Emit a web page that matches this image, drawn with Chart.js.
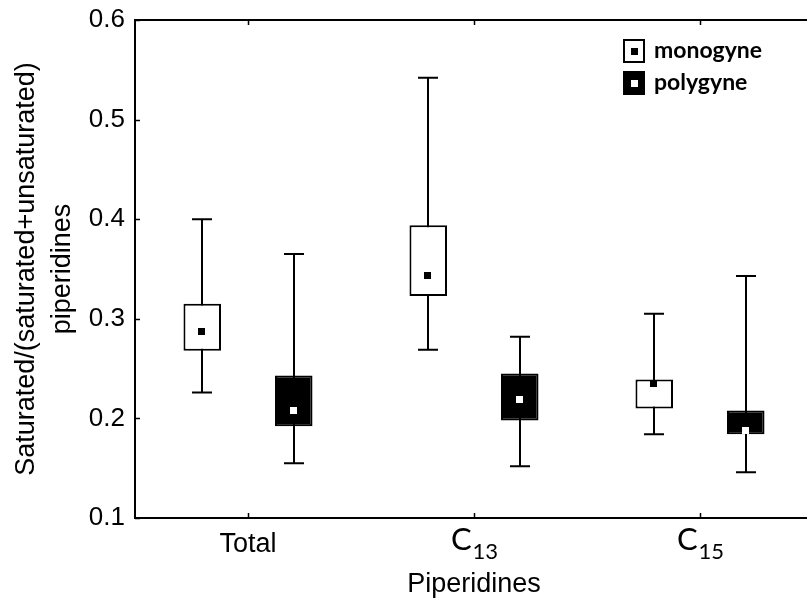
<!DOCTYPE html>
<html>
<head>
<meta charset="utf-8">
<script src="https://cdn.jsdelivr.net/npm/chart.js@4/dist/chart.umd.min.js"></script>
<style>
  html, body { margin: 0; padding: 0; background: #fff; overflow: hidden; }
  #wrap { position: relative; width: 815px; height: 604px; }
</style>
</head>
<body>
<div id="wrap"><canvas id="graph"></canvas></div>
<script>
// categories (main text + subscript)
var catMain = ["Total", "C", "C"];
var catSub = ["", "13", "15"];

// monogyne: whisker min, box q1, box q3, whisker max, centre marker
var monoMin = [0.226, 0.269, 0.184];
var monoQ1 = [0.268, 0.323, 0.210];
var monoQ3 = [0.315, 0.394, 0.239];
var monoMax = [0.400, 0.542, 0.305];
var monoMid = [0.287, 0.343, 0.235];

// polygyne
var polyMin = [0.155, 0.152, 0.146];
var polyQ1 = [0.192, 0.198, 0.184];
var polyQ3 = [0.243, 0.245, 0.208];
var polyMax = [0.365, 0.282, 0.343];
var polyMid = [0.207, 0.218, 0.187];

var seriesNames = ["monogyne", "polygyne"];
var yTicks = [0.1, 0.2, 0.3, 0.4, 0.5, 0.6];

var groups = [
  { min: monoMin, mid: monoMid, max: monoMax, box: "#ffffff", mark: "#000000" },
  { min: polyMin, mid: polyMid, max: polyMax, box: "#000000", mark: "#ffffff" }
];

function pairs(a, b) {
  return a.map(function (v, i) { return [v, b[i]]; });
}

var boxExtras = {
  id: "boxExtras",
  beforeDatasetsDraw: function (chart) {
    var ctx = chart.ctx;
    var y = chart.scales.y;
    ctx.save();
    ctx.strokeStyle = "#000";
    ctx.lineWidth = 2;
    groups.forEach(function (g, d) {
      var meta = chart.getDatasetMeta(d);
      meta.data.forEach(function (bar, i) {
        var x = Math.round(bar.x);
        var yTop = y.getPixelForValue(g.max[i]);
        var yBot = y.getPixelForValue(g.min[i]);
        ctx.beginPath();
        ctx.moveTo(x, yTop);
        ctx.lineTo(x, yBot);
        ctx.moveTo(x - 10, yTop);
        ctx.lineTo(x + 10, yTop);
        ctx.moveTo(x - 10, yBot);
        ctx.lineTo(x + 10, yBot);
        ctx.stroke();
      });
    });
    ctx.restore();
  },
  afterDatasetsDraw: function (chart) {
    var ctx = chart.ctx;
    var y = chart.scales.y;
    var xs = chart.scales.x;
    var a = chart.chartArea;
    ctx.save();
    // centre markers
    groups.forEach(function (g, d) {
      var meta = chart.getDatasetMeta(d);
      meta.data.forEach(function (bar, i) {
        var py = y.getPixelForValue(g.mid[i]);
        ctx.fillStyle = g.mark;
        ctx.fillRect(Math.round(bar.x) - 4, Math.round(py) - 4, 7, 7);
      });
    });
    // frame
    ctx.strokeStyle = "#000";
    ctx.lineWidth = 2;
    ctx.strokeRect(a.left, a.top, a.right - a.left, a.bottom - a.top);
    // inward tick marks
    ctx.lineWidth = 1.5;
    ctx.beginPath();
    yTicks.forEach(function (v) {
      var py = Math.round(y.getPixelForValue(v)) + 0.5;
      ctx.moveTo(a.left, py);
      ctx.lineTo(a.left + 5, py);
    });
    catMain.forEach(function (c, i) {
      var px = Math.round(xs.getPixelForTick(i)) + 0.5;
      ctx.moveTo(px, a.bottom);
      ctx.lineTo(px, a.bottom - 5);
      ctx.moveTo(px, a.top);
      ctx.lineTo(px, a.top + 5);
    });
    ctx.stroke();
    // category labels with subscripts
    ctx.fillStyle = "#000";
    ctx.textBaseline = "alphabetic";
    catMain.forEach(function (c, i) {
      var px = xs.getPixelForTick(i);
      if (!catSub[i]) {
        ctx.font = "27px 'Liberation Sans', Arial, sans-serif";
        ctx.textAlign = "center";
        ctx.fillText(c, px, a.bottom + 34);
        return;
      }
      ctx.font = "31px Lato, sans-serif";
      var w1 = ctx.measureText(c).width;
      ctx.font = "22px Lato, sans-serif";
      var w2 = ctx.measureText(catSub[i]).width;
      var x0 = px - (w1 + w2) / 2;
      ctx.textAlign = "left";
      ctx.font = "31px Lato, sans-serif";
      ctx.fillText(c, x0, a.bottom + 32);
      ctx.font = "22px Lato, sans-serif";
      ctx.fillText(catSub[i], x0 + w1 + 1, a.bottom + 41);
    });
    // legend
    var lx = 623, ly = [39, 71];
    groups.forEach(function (g, d) {
      ctx.fillStyle = g.box;
      ctx.fillRect(lx, ly[d], 22, 24);
      ctx.strokeStyle = "#000";
      ctx.lineWidth = 2;
      ctx.strokeRect(lx + 1, ly[d] + 1, 20, 22);
      ctx.fillStyle = g.mark;
      ctx.fillRect(lx + 8, ly[d] + 9, 7, 7);
      ctx.fillStyle = "#000";
      ctx.font = "bold 23px Lato, sans-serif";
      ctx.textAlign = "left";
      ctx.fillText(seriesNames[d], 654, ly[d] + 19);
    });
    ctx.restore();
  }
};

var data = {
  labels: catMain.map(function (c, i) { return c + catSub[i]; }),
  datasets: [
    {
      label: seriesNames[0],
      data: pairs(monoQ1, monoQ3),
      backgroundColor: "#ffffff",
      borderColor: "#000000",
      borderWidth: 2,
      borderSkipped: false,
      categoryPercentage: 0.81,
      barPercentage: 0.41
    },
    {
      label: seriesNames[1],
      data: pairs(polyQ1, polyQ3),
      backgroundColor: "#000000",
      borderColor: "#000000",
      borderWidth: 2,
      borderSkipped: false,
      categoryPercentage: 0.81,
      barPercentage: 0.41
    }
  ]
};

var config = {
  type: "bar",
  data: data,
  plugins: [boxExtras],
  options: {
    responsive: true,
    maintainAspectRatio: false,
    animation: false,
    layout: { padding: { left: 0, right: 2, top: 20, bottom: 0 } },
    plugins: {
      legend: { display: false },
      tooltip: { enabled: false }
    },
    scales: {
      x: {
        grid: { display: false, drawTicks: false },
        border: { display: false },
        ticks: { display: false },
        title: {
          display: true,
          text: "Piperidines",
          color: "#000",
          font: { family: "'Liberation Sans', Arial, sans-serif", size: 27 },
          padding: { top: 0, bottom: 3 }
        },
        afterFit: function (scale) { scale.height = 86; }
      },
      y: {
        min: 0.1,
        max: 0.6,
        grid: { display: false, drawTicks: false },
        border: { display: false },
        ticks: {
          stepSize: 0.1,
          padding: 10,
          color: "#000",
          font: { family: "'Liberation Sans', Arial, sans-serif", size: 26 },
          callback: function (v) { return Number(v).toFixed(1); }
        },
        title: {
          display: true,
          text: ["Saturated/(saturated+unsaturated)", "piperidines"],
          color: "#000",
          font: { family: "'Liberation Sans', Arial, sans-serif", size: 27, lineHeight: 1.333 },
          padding: { top: 9, bottom: 0 }
        },
        afterFit: function (scale) {
          scale.width = 135;
          scale.paddingTop = 0;
          scale.paddingBottom = 0;
        }
      }
    }
  }
};

new Chart(document.getElementById("graph"), config);
</script>
</body>
</html>
